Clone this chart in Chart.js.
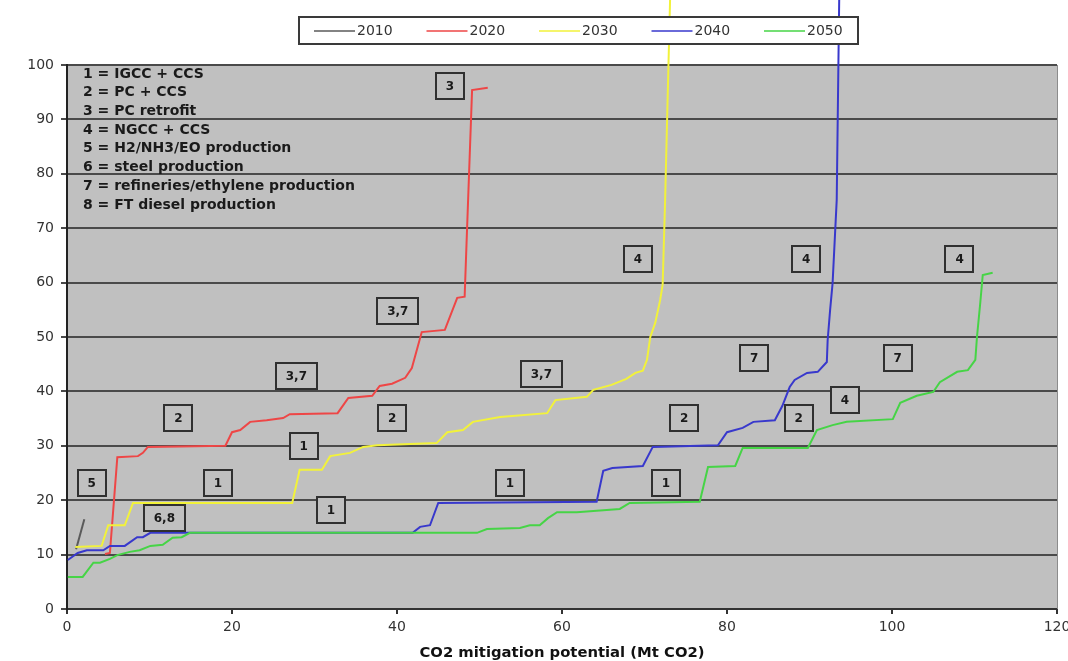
<!DOCTYPE html>
<html>
<head>
<meta charset="utf-8">
<script src="https://cdn.jsdelivr.net/npm/chart.js@4.4.1/dist/chart.umd.min.js"></script>
<style>
  html, body { margin: 0; padding: 0; background: #ffffff; }
  #wrap { width: 1068px; height: 661px; }
</style>
</head>
<body>
<div id="wrap"><canvas id="c" width="1068" height="661"></canvas></div>
<script>
// Cost curves (y) against cumulative CO2 mitigation potential (x), per year
const seriesNames = ['2010', '2020', '2030', '2040', '2050'];
const seriesColors = ['#5a5a5a', '#ee4646', '#f2f23a', '#3838cc', '#46d446'];

const x2010 = [1.1, 2.1];
const y2010 = [11.0, 16.5];

const x2020 = [4.6, 5.2, 6.1, 8.6, 9.2, 9.8, 19.2, 20.0, 21.0, 22.2, 24.2, 26.2, 27.0, 32.8, 34.1, 37.0, 37.9, 39.4, 41.0, 41.8, 43.0, 45.8, 47.3, 48.2, 48.4, 49.1, 51.0];
const y2020 = [10.1, 10.3, 27.9, 28.1, 28.7, 29.8, 30.0, 32.5, 32.9, 34.4, 34.7, 35.1, 35.8, 36.0, 38.8, 39.2, 41.0, 41.4, 42.5, 44.3, 50.9, 51.3, 57.2, 57.4, 66.0, 95.4, 95.8];

const x2030 = [1.0, 4.2, 5.0, 7.0, 8.0, 27.3, 28.2, 30.9, 31.9, 34.3, 35.9, 37.6, 44.8, 46.1, 48.0, 49.2, 52.5, 58.2, 59.2, 63.0, 63.8, 66.0, 67.8, 68.9, 69.8, 70.3, 70.7, 71.3, 71.9, 72.2, 72.5, 73.1];
const y2030 = [11.4, 11.6, 15.4, 15.4, 19.5, 19.5, 25.6, 25.6, 28.1, 28.7, 29.8, 30.1, 30.5, 32.5, 32.9, 34.4, 35.3, 36.0, 38.4, 39.0, 40.3, 41.2, 42.3, 43.4, 43.8, 45.8, 50.0, 52.6, 56.8, 59.6, 75.2, 112];

const x2040 = [0.1, 1.3, 2.4, 4.4, 5.2, 7.0, 8.5, 9.2, 10.1, 41.9, 42.8, 44.0, 45.0, 64.2, 65.0, 66.1, 69.8, 71.0, 78.9, 80.0, 81.9, 83.2, 85.8, 86.7, 87.6, 88.2, 89.7, 91.0, 92.1, 92.2, 92.5, 92.8, 93.1, 93.3, 93.6];
const y2040 = [9.0, 10.3, 10.8, 10.8, 11.6, 11.6, 13.2, 13.2, 14.0, 14.0, 15.1, 15.4, 19.5, 19.7, 25.4, 25.9, 26.3, 29.8, 30.1, 32.5, 33.3, 34.4, 34.7, 37.3, 40.8, 42.1, 43.4, 43.6, 45.4, 49.4, 55.0, 59.9, 69.1, 75.2, 112];

const x2050 = [0.1, 1.9, 3.2, 4.0, 5.2, 6.1, 7.6, 8.8, 10.1, 11.6, 12.8, 13.9, 14.9, 49.7, 50.9, 54.9, 56.1, 57.3, 58.3, 59.4, 61.8, 67.0, 68.2, 76.7, 77.7, 81.0, 81.9, 89.8, 90.9, 92.8, 94.5, 100.1, 101.0, 103.0, 105.0, 105.8, 107.9, 109.2, 110.1, 110.3, 110.7, 111.0, 112.2];
const y2050 = [5.9, 5.9, 8.5, 8.5, 9.2, 9.9, 10.5, 10.8, 11.6, 11.8, 13.1, 13.2, 14.0, 14.0, 14.7, 14.9, 15.4, 15.4, 16.7, 17.8, 17.8, 18.4, 19.5, 19.7, 26.1, 26.3, 29.6, 29.6, 32.9, 33.8, 34.4, 34.9, 37.9, 39.2, 39.9, 41.7, 43.6, 43.9, 45.8, 50.0, 56.3, 61.4, 61.8];

// Technology key and the boxed technology numbers placed along the curves
const keyLines = [
  '1 = IGCC + CCS',
  '2 = PC + CCS',
  '3 = PC retrofit',
  '4 = NGCC + CCS',
  '5 = H2/NH3/EO production',
  '6 = steel production',
  '7 = refineries/ethylene production',
  '8 = FT diesel production'
];
const boxText = ['3', '5', '2', '1', '6,8', '3,7', '1', '2', '1', '3,7', '3,7', '4', '1', '2', '1', '4', '7', '2', '4', '7', '4'];
const boxX = [46.4, 3.0, 13.5, 18.3, 11.8, 27.8, 28.7, 39.4, 32.0, 40.1, 57.5, 69.2, 53.7, 74.8, 72.6, 89.6, 83.3, 88.7, 94.3, 100.7, 108.2];
const boxY = [96.1, 23.2, 35.1, 23.2, 16.7, 42.8, 30.0, 35.1, 18.2, 54.8, 43.2, 64.3, 23.2, 35.1, 23.2, 64.3, 46.1, 35.1, 38.4, 46.1, 64.3];

const xTitle = 'CO2 mitigation potential (Mt CO2)';

const xs = [x2010, x2020, x2030, x2040, x2050];
const ys = [y2010, y2020, y2030, y2040, y2050];

const datasets = seriesNames.map((name, i) => ({
  label: name,
  data: xs[i].map((x, k) => ({ x: x, y: ys[i][k] })),
  borderColor: seriesColors[i],
  backgroundColor: seriesColors[i],
  borderWidth: 2,
  pointRadius: 0,
  tension: 0,
  fill: false,
  clip: false,
  // later years are drawn on top of earlier ones
  order: seriesNames.length - 1 - i
}));

const plotBackground = {
  id: 'plotBackground',
  beforeDraw(chart) {
    const { ctx, chartArea: a } = chart;
    ctx.save();
    ctx.fillStyle = '#c0c0c0';
    ctx.fillRect(a.left, a.top, a.right - a.left, a.bottom - a.top);
    ctx.restore();
  },
  afterDraw(chart) {
    const { ctx, chartArea: a } = chart;
    ctx.save();
    ctx.strokeStyle = '#8c8c8c';
    ctx.lineWidth = 1;
    ctx.beginPath();
    ctx.moveTo(a.right + 0.5, a.top);
    ctx.lineTo(a.right + 0.5, a.bottom);
    ctx.stroke();
    ctx.restore();
  }
};

const annotations = {
  id: 'annotations',
  afterDatasetsDraw(chart) {
    const { ctx, chartArea: a, scales } = chart;
    ctx.save();
    // technology key, top left of the plot
    ctx.fillStyle = '#1a1a1a';
    ctx.font = 'bold 14px "DejaVu Sans"';
    ctx.textBaseline = 'middle';
    ctx.textAlign = 'left';
    keyLines.forEach((t, i) => ctx.fillText(t, a.left + 16, a.top + 9 + i * 18.7));

    // boxed technology numbers
    ctx.font = 'bold 12px "DejaVu Sans"';
    ctx.textAlign = 'center';
    boxText.forEach((t, i) => {
      const cx = scales.x.getPixelForValue(boxX[i]);
      const cy = scales.y.getPixelForValue(boxY[i]);
      const w = ctx.measureText(t).width + 20;
      const h = 26;
      ctx.fillStyle = '#c0c0c0';
      ctx.fillRect(cx - w / 2, cy - h / 2, w, h);
      ctx.strokeStyle = '#303030';
      ctx.lineWidth = 2;
      ctx.strokeRect(Math.round(cx - w / 2), Math.round(cy - h / 2), Math.round(w), h);
      ctx.fillStyle = '#1a1a1a';
      ctx.fillText(t, cx, cy + 1);
    });
    ctx.restore();
  },
  afterDraw(chart) {
    // legend box above the plot, drawn over the curves that run past the top
    const { ctx } = chart;
    ctx.save();
    const bx = 299, by = 17, bw = 559, bh = 27;
    ctx.fillStyle = '#ffffff';
    ctx.fillRect(bx, by, bw, bh);
    ctx.strokeStyle = '#3a3a3a';
    ctx.lineWidth = 2;
    ctx.strokeRect(bx, by, bw, bh);
    ctx.font = '14px "DejaVu Sans"';
    ctx.textBaseline = 'middle';
    ctx.textAlign = 'left';
    const cy = by + bh / 2 + 0.5;
    seriesNames.forEach((name, i) => {
      const x0 = 314 + i * 112.5;
      ctx.strokeStyle = seriesColors[i];
      ctx.lineWidth = 1.5;
      ctx.beginPath();
      ctx.moveTo(x0, cy);
      ctx.lineTo(x0 + 41, cy);
      ctx.stroke();
      ctx.fillStyle = '#333333';
      ctx.fillText(name, x0 + 43, cy);
    });
    ctx.restore();
  }
};

new Chart(document.getElementById('c'), {
  type: 'line',
  data: { datasets: datasets },
  plugins: [plotBackground, annotations],
  options: {
    responsive: false,
    animation: false,
    devicePixelRatio: 1,
    layout: { padding: { top: 65, right: 11, left: 0, bottom: 0 } },
    plugins: {
      legend: { display: false },
      tooltip: { enabled: false }
    },
    scales: {
      x: {
        type: 'linear',
        min: 0,
        max: 120,
        afterFit(scale) {
          scale.height = 52;
          // let the last tick label run off the right edge
          scale.paddingRight = 0;
        },
        ticks: {
          stepSize: 20,
          color: '#333333',
          padding: 5,
          maxRotation: 0,
          font: { family: 'DejaVu Sans', size: 14 }
        },
        grid: {
          drawOnChartArea: false,
          drawTicks: true,
          tickLength: 5,
          color: '#333333',
          lineWidth: 2
        },
        border: { display: true, color: '#333333', width: 2 },
        title: {
          display: true,
          text: xTitle,
          color: '#111111',
          padding: { top: 0, bottom: 0 },
          font: { family: 'DejaVu Sans', size: 14.8, weight: 'bold', lineHeight: 1.1 }
        }
      },
      y: {
        min: 0,
        max: 100,
        afterFit(scale) { scale.width = 67; },
        ticks: {
          stepSize: 10,
          color: '#333333',
          padding: 7,
          font: { family: 'DejaVu Sans', size: 14 }
        },
        grid: {
          color: '#4a4a4a',
          lineWidth: 2,
          drawTicks: true,
          tickLength: 6
        },
        border: { display: true, color: '#222222', width: 2 }
      }
    }
  }
});
</script>
</body>
</html>
